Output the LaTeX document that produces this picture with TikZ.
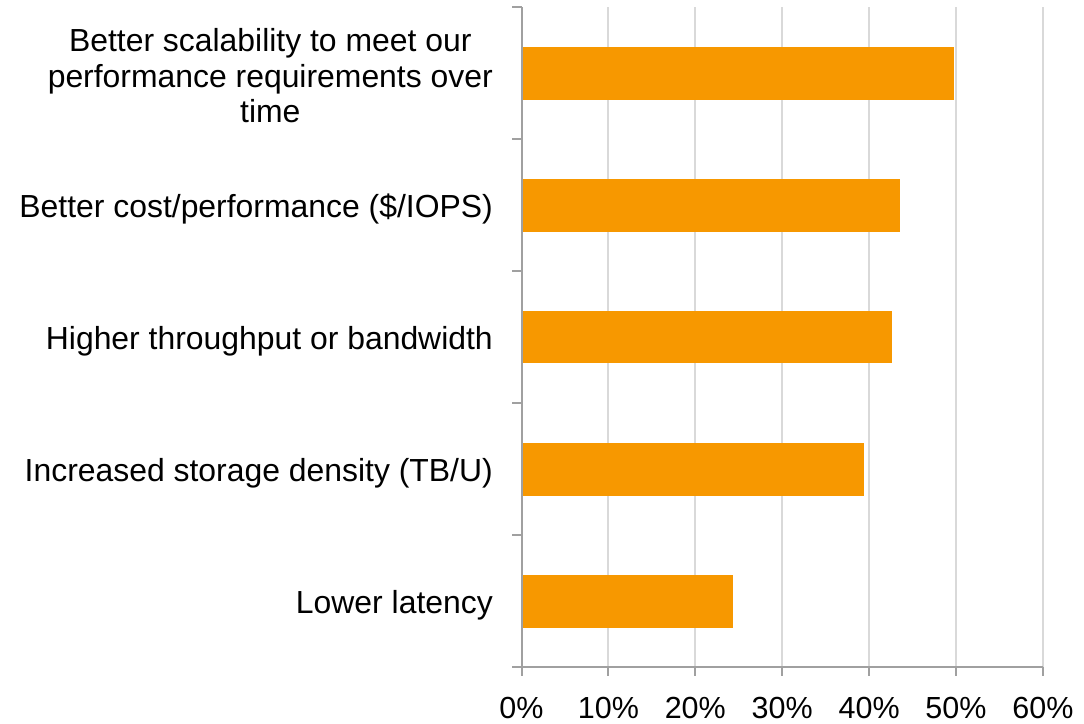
\documentclass[tikz,border=0pt]{standalone}
\usepackage{fontspec}
\setmainfont{Liberation Sans}
\definecolor{barorange}{RGB}{247,152,0}
\definecolor{gridgray}{RGB}{217,217,217}
\definecolor{axisgray}{RGB}{160,160,160}
\tikzset{
  bar/.style={fill=barorange, draw=none},
  gridline/.style={draw=gridgray, line width=2pt},
  axisline/.style={draw=axisgray, line width=2pt},
  catlabel/.style={anchor=east, align=center, inner sep=0pt, font=\fontsize{31.9}{35.5}\selectfont},
  ticklabel/.style={anchor=base, inner sep=0pt, font=\fontsize{30.5}{35}\selectfont}
}
\begin{document}
\begin{tikzpicture}[x=1pt, y=-1pt]
\useasboundingbox (0,0) rectangle (1084,723);
\fill[white] (0,0) rectangle (1084,723);
% gridlines
\foreach \i in {1,...,6} {
  \draw[gridline] ({521.5+86.9*\i},7) -- ({521.5+86.9*\i},667);
}
% bars
\path[bar] (521.5,46.7) rectangle (954.3,100);
\path[bar] (521.5,178.7) rectangle (900.3,231.7);
\path[bar] (521.5,311) rectangle (892.3,363);
\path[bar] (521.5,443.3) rectangle (864.3,496);
\path[bar] (521.5,575) rectangle (732.7,628);
% axes
\draw[axisline] (521.5,7) -- (521.5,676);
\draw[axisline] (512,667) -- (1042.9,667);
\foreach \y in {7,139,271,403,535,667} {
  \draw[axisline] (512,\y) -- (521.5,\y);
}
\foreach \i in {0,...,6} {
  \draw[axisline] ({521.5+86.9*\i},667) -- ({521.5+86.9*\i},676);
  \pgfmathtruncatemacro{\pct}{10*\i}
  \node[ticklabel] (t\i) at ({521.5+86.9*\i},718) {\pct\%};
}
% category labels
\node[catlabel] (c1) at (493,76) {Better scalability to meet our\\performance requirements over\\time};
\node[catlabel] (c2) at (493,209) {Better cost/performance (\$/IOPS)};
\node[catlabel] (c3) at (493,341) {Higher throughput or bandwidth};
\node[catlabel] (c4) at (493,473) {Increased storage density (TB/U)};
\node[catlabel] (c5) at (493,605) {Lower latency};
\end{tikzpicture}
\end{document}
